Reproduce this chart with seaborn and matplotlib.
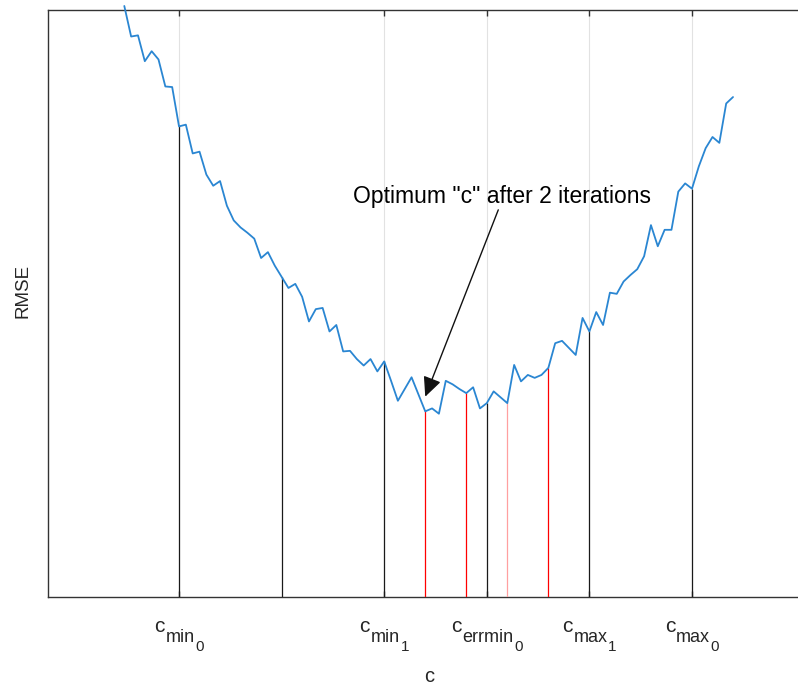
import numpy as np
import matplotlib
matplotlib.use("Agg")
import matplotlib.pyplot as plt
import seaborn as sns

# RMSE sampled on a uniform grid of c (step 1/15, from c = 7/15 to c = 96/15)
rmse = [1.006, 0.954, 0.956, 0.912, 0.929, 0.915, 0.869, 0.868, 0.801, 0.804,
        0.755, 0.758, 0.719, 0.700, 0.708, 0.666, 0.641, 0.629, 0.620, 0.610,
        0.577, 0.587, 0.564, 0.545, 0.526, 0.533, 0.511, 0.469, 0.490, 0.492,
        0.452, 0.463, 0.418, 0.419, 0.405, 0.394, 0.405, 0.384, 0.401, 0.368,
        0.334, 0.354, 0.374, 0.345, 0.316, 0.321, 0.312, 0.368, 0.362, 0.354,
        0.347, 0.357, 0.321, 0.330, 0.350, 0.340, 0.330, 0.395, 0.367, 0.378,
        0.373, 0.378, 0.390, 0.432, 0.436, 0.424, 0.412, 0.475, 0.452, 0.485,
        0.463, 0.518, 0.516, 0.537, 0.548, 0.558, 0.580, 0.633, 0.597, 0.625,
        0.625, 0.690, 0.704, 0.695, 0.733, 0.764, 0.783, 0.773, 0.840, 0.851]
c = np.linspace(7 / 15, 96 / 15, len(rmse))

# evaluation points of the two search iterations
iter0_c = [1.0, 2.0, 3.0, 4.0, 5.0, 6.0]
iter1_c = [3.4, 3.8, 4.6]
iter1_faint_c = [4.2]

# labelled ticks: position, base, subscript, sub-subscript
tick_pos = [1.0, 3.0, 4.0, 5.0, 6.0]
tick_sub = ["min", "min", "errmin", "max", "max"]
tick_subsub = ["0", "1", "0", "1", "0"]

optimum_c = 3.4
note_text = 'Optimum "c" after 2 iterations'

sns.set_theme(style="white")
plt.rcParams["font.family"] = ["Liberation Sans", "DejaVu Sans"]

TXT = "#262626"
AX = "#333333"
BLUE = "#2a86d2"

fig = plt.figure(figsize=(7.98, 6.88), dpi=100)
ax = fig.add_axes([48 / 798, 1 - 597 / 688, 775 / 798, 587.5 / 688])

sns.lineplot(x=c, y=rmse, ax=ax, color=BLUE, linewidth=1.3, zorder=4)
ax.lines[-1].set_clip_on(False)

def value_at(x):
    return float(np.interp(x, c, rmse))

ax.vlines(iter0_c, 0, [value_at(x) for x in iter0_c], colors="#1a1a1a",
          linewidth=0.9, zorder=3)
ax.vlines(iter1_c, 0, [value_at(x) for x in iter1_c], colors="#ff0000",
          linewidth=0.9, zorder=3)
ax.vlines(iter1_faint_c, 0, [value_at(x) for x in iter1_faint_c],
          colors="#ffa0a0", linewidth=0.9, zorder=3)

ax.set_xlim(-0.277, 7.277)
ax.set_ylim(0, 1.0)
ax.set_xticks(tick_pos)
ax.set_xticklabels([])
ax.set_yticks([])
ax.grid(axis="x", color="#e2e2e2", linewidth=0.8)
ax.set_axisbelow(True)
ax.tick_params(axis="x", which="both", direction="in", top=True, bottom=True,
               length=4, width=1.0, color=AX)
for sp in ax.spines.values():
    sp.set_color(AX)
    sp.set_linewidth(1.0)

# tick labels written as c with stacked subscripts
groups = []
for x, sub, subsub in zip(tick_pos, tick_sub, tick_subsub):
    t0 = ax.annotate("c", xy=(x, 0), xycoords=("data", "axes fraction"),
                     xytext=(0, -25.2), textcoords="offset points",
                     ha="left", va="baseline", fontsize=15, color=TXT)
    t1 = ax.annotate(sub, xy=(1, 0), xycoords=t0, xytext=(0.5, -4.6),
                     textcoords="offset points", ha="left", va="baseline",
                     fontsize=13, color=TXT)
    t2 = ax.annotate(subsub, xy=(1, 0), xycoords=t1, xytext=(0.5, -3.6),
                     textcoords="offset points", ha="left", va="baseline",
                     fontsize=11, color=TXT)
    groups.append((x, t0, t1, t2))

ax.set_xlabel("c", fontsize=14.5, color=TXT)
ax.xaxis.label.set_va("baseline")
ax.xaxis.set_label_coords((429 - 48) / 775, (597 - 682) / 587.5)
ax.set_ylabel("RMSE", fontsize=13.5, color=TXT)
ax.yaxis.label.set_va("center")
ax.yaxis.set_label_coords((23 - 48) / 775, (597 - 291) / 587.5)

# annotation text and arrow pointing at the optimum
ax.text(4.146, 0.681, note_text, ha="center", va="center", fontsize=16.5,
        color="black", zorder=6)
ax.annotate("", xy=(optimum_c, value_at(optimum_c) + 0.025),
            xytext=(4.112, 0.659),
            arrowprops=dict(arrowstyle="-|>,head_length=0.6,head_width=0.28",
                            mutation_scale=20, color="#111111", lw=1.0,
                            shrinkA=0, shrinkB=0),
            zorder=6)

# centre each composite tick label on its tick
fig.canvas.draw()
renderer = fig.canvas.get_renderer()
for x, t0, t1, t2 in groups:
    boxes = [t.get_window_extent(renderer) for t in (t0, t1, t2)]
    left = min(b.x0 for b in boxes)
    right = max(b.x1 for b in boxes)
    target = ax.transData.transform((x, 0))[0]
    shift_pt = (target - (left + right) / 2) * 72 / fig.dpi
    t0.xyann = (t0.xyann[0] + shift_pt, t0.xyann[1])

fig.savefig("out.png", dpi=100)
